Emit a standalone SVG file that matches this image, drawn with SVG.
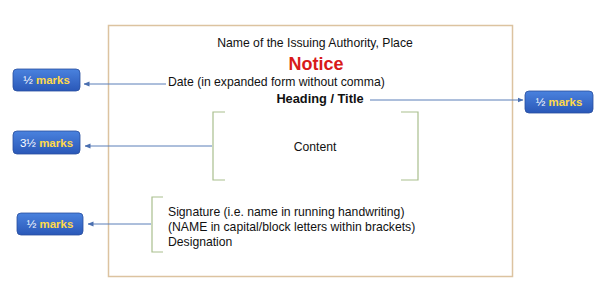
<svg xmlns="http://www.w3.org/2000/svg" width="602" height="306" viewBox="0 0 602 306">
<defs>
<linearGradient id="bg" x1="0" y1="0" x2="0" y2="1">
<stop offset="0" stop-color="#4a82de"/>
<stop offset="1" stop-color="#2a58b8"/>
</linearGradient>
<marker id="ah" viewBox="0 0 6 6" refX="5.5" refY="3" markerWidth="6" markerHeight="6" orient="auto" markerUnits="userSpaceOnUse">
<path d="M0,0.5 L6,3 L0,5.5 Z" fill="#4a6fb0"/>
</marker>
</defs>
<style>
text{font-family:"Liberation Sans",Arial,sans-serif;font-size:12.2px;fill:#111}
.b{font-weight:bold}
.badge rect{fill:url(#bg);stroke:#2a4f9e;stroke-width:0.8}
.badge text{font-size:11.5px;text-anchor:middle}
.w{fill:#ffffff}
.y{fill:#ffd94a;font-weight:bold}
.br{fill:none;stroke:#a9bf8e;stroke-width:1.2}
.con path{fill:none;stroke:#5b7fb8;stroke-width:1;marker-end:url(#ah)}
</style>
<rect width="602" height="306" fill="#ffffff"/>
<g id="frame"><rect x="108.5" y="25.5" width="404" height="251" fill="none" stroke="#dcc3a0" stroke-width="1.5"/></g>
<g id="header">
<text x="315" y="47" text-anchor="middle">Name of the Issuing Authority, Place</text>
<text x="316" y="70" text-anchor="middle" class="b" style="font-size:18px;fill:#d81a1a">Notice</text>
<text x="168" y="86">Date (in expanded form without comma)</text>
<text x="320" y="103" text-anchor="middle" class="b" style="font-size:12.8px">Heading / Title</text>
</g>
<g id="content">
<path class="br" d="M225,112 H213 V180 H225"/>
<path class="br" d="M401,112 H418 V180 H401"/>
<text x="315" y="151" text-anchor="middle">Content</text>
</g>
<g id="signature">
<path class="br" d="M163,197 H152 V252 H163"/>
<text x="168" y="216">Signature (i.e. name in running handwriting)</text>
<text x="168" y="231">(NAME in capital/block letters within brackets)</text>
<text x="168" y="246">Designation</text>
</g>
<g id="badge1" class="badge"><rect x="13" y="69" width="67" height="22" rx="4"/><text x="46.5" y="84"><tspan class="w">½ </tspan><tspan class="y">marks</tspan></text></g>
<g id="badge2" class="badge"><rect x="525" y="91" width="68" height="22" rx="4"/><text x="559" y="106"><tspan class="w">½ </tspan><tspan class="y">marks</tspan></text></g>
<g id="badge3" class="badge"><rect x="13" y="131" width="67" height="23" rx="4"/><text x="46.5" y="146.5"><tspan class="w">3½ </tspan><tspan class="y">marks</tspan></text></g>
<g id="badge4" class="badge"><rect x="17" y="213" width="66" height="22" rx="4"/><text x="50" y="228"><tspan class="w">½ </tspan><tspan class="y">marks</tspan></text></g>
<g id="connectors" class="con">
<path d="M166,84 H84"/>
<path d="M370,100 H523"/>
<path d="M212,146 H85"/>
<path d="M151,224 H88"/>
</g>
</svg>
